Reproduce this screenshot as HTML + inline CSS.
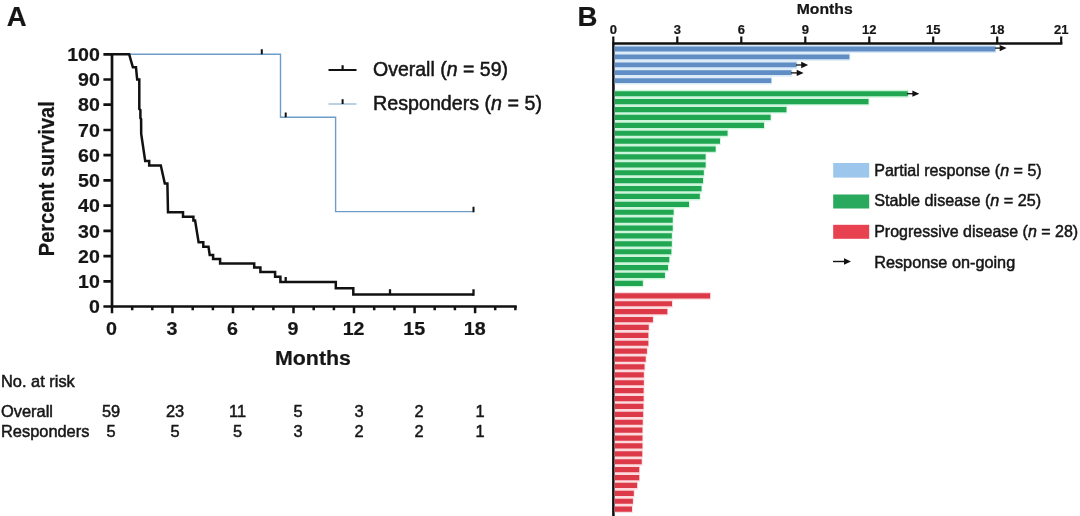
<!DOCTYPE html><html><head><meta charset="utf-8"><title>Figure</title><style>html,body{margin:0;padding:0;background:#fff}svg{display:block;filter:blur(.5px)}text{font-family:"Liberation Sans",Arial,sans-serif;fill:#161616;stroke:#161616;stroke-width:.5px}.b{font-weight:bold;stroke-width:.2px}</style></head><body>
<svg width="1080" height="516" viewBox="0 0 1080 516">
<rect width="1080" height="516" fill="#fff"/>
<text class="b" x="6.8" y="26" font-size="27.5">A</text>
<path d="M112 53V307.8M110.6 306.5H516.8" stroke="#111" stroke-width="2.7" fill="none"/>
<path d="M103.4 306.5H112M103.4 281.3H112M103.4 256.1H112M103.4 230.8H112M103.4 205.6H112M103.4 180.4H112M103.4 155.2H112M103.4 130.0H112M103.4 104.7H112M103.4 79.5H112M103.4 54.3H112" stroke="#111" stroke-width="2.7" fill="none"/>
<path d="M112.0 306.5V313.3M132.2 306.5V310.2M152.3 306.5V310.2M172.5 306.5V313.3M192.7 306.5V310.2M212.9 306.5V310.2M233.0 306.5V313.3M253.2 306.5V310.2M273.4 306.5V310.2M293.5 306.5V313.3M313.7 306.5V310.2M333.9 306.5V310.2M354.0 306.5V313.3M374.2 306.5V310.2M394.4 306.5V310.2M414.6 306.5V313.3M434.7 306.5V310.2M454.9 306.5V310.2M475.1 306.5V313.3M495.2 306.5V310.2M515.4 306.5V310.2" stroke="#111" stroke-width="2.5" fill="none"/>
<text class="b" transform="translate(99.8 313.2) scale(1.05 1)" font-size="18.6" text-anchor="end">0</text>
<text class="b" transform="translate(99.8 288.0) scale(1.05 1)" font-size="18.6" text-anchor="end">10</text>
<text class="b" transform="translate(99.8 262.8) scale(1.05 1)" font-size="18.6" text-anchor="end">20</text>
<text class="b" transform="translate(99.8 237.5) scale(1.05 1)" font-size="18.6" text-anchor="end">30</text>
<text class="b" transform="translate(99.8 212.3) scale(1.05 1)" font-size="18.6" text-anchor="end">40</text>
<text class="b" transform="translate(99.8 187.1) scale(1.05 1)" font-size="18.6" text-anchor="end">50</text>
<text class="b" transform="translate(99.8 161.9) scale(1.05 1)" font-size="18.6" text-anchor="end">60</text>
<text class="b" transform="translate(99.8 136.7) scale(1.05 1)" font-size="18.6" text-anchor="end">70</text>
<text class="b" transform="translate(99.8 111.4) scale(1.05 1)" font-size="18.6" text-anchor="end">80</text>
<text class="b" transform="translate(99.8 86.2) scale(1.05 1)" font-size="18.6" text-anchor="end">90</text>
<text class="b" transform="translate(99.8 61.0) scale(1.05 1)" font-size="18.6" text-anchor="end">100</text>
<text class="b" transform="translate(111.6 334.6) scale(1.06 1)" font-size="18.6" text-anchor="middle">0</text>
<text class="b" transform="translate(172.1 334.6) scale(1.06 1)" font-size="18.6" text-anchor="middle">3</text>
<text class="b" transform="translate(232.6 334.6) scale(1.06 1)" font-size="18.6" text-anchor="middle">6</text>
<text class="b" transform="translate(293.1 334.6) scale(1.06 1)" font-size="18.6" text-anchor="middle">9</text>
<text class="b" transform="translate(353.6 334.6) scale(1.06 1)" font-size="18.6" text-anchor="middle">12</text>
<text class="b" transform="translate(414.2 334.6) scale(1.06 1)" font-size="18.6" text-anchor="middle">15</text>
<text class="b" transform="translate(474.7 334.6) scale(1.06 1)" font-size="18.6" text-anchor="middle">18</text>
<text class="b" x="313" y="365.2" font-size="20" text-anchor="middle" textLength="76" lengthAdjust="spacingAndGlyphs">Months</text>
<text class="b" transform="translate(54 178.7) rotate(-90) scale(1 1.12)" font-size="20" text-anchor="middle" textLength="155" lengthAdjust="spacingAndGlyphs">Percent survival</text>
<path d="M112 54.3H280.5V117.2H335.6V211.6H473.5" stroke="#6f9dc9" stroke-width="1.4" fill="none"/>
<path d="M261.8 54.3V49.2M285.7 117.2V112.5M473.5 212.2V206.8" stroke="#111" stroke-width="2" fill="none"/>
<path d="M112 54.3L129.2 54.3L130.4 58.6L131.6 62.9L132.9 67.3L136 67.3L136.4 71.6L136.8 75.8L137.2 79.6L139.3 79.6L139.3 109L140.4 110L140.4 118L141.1 119L141.2 134L145.2 161L149.2 161L149.2 165.5L160.8 165.5L164.8 183.4L167.4 183.4L168 212.2L183 212.2L183 216.8L193.4 216.8L193.4 220.6L195.1 220.6L198.6 242.3L203.3 242.3L203.3 246.8L208.5 246.8L209.7 254.9L213.1 254.9L213.1 259.1L220.1 259.1L220.1 263.4L254.2 263.4L254.2 267.5L260.4 267.5L260.4 272L275.1 272L275.1 276.7L280.4 276.7L280.4 282L335.8 282L335.8 288.2L353.3 288.2L353.3 294.5L473.5 294.5" stroke="#111" stroke-width="2.5" fill="none" stroke-linejoin="miter"/>
<path d="M285.7 282V277M390 294.5V289.2M473.5 295.7V289.2" stroke="#111" stroke-width="2.3" fill="none"/>
<path d="M328.5 70H356.5M342.6 70V65.2" stroke="#111" stroke-width="2.2" fill="none"/>
<path d="M328.5 104H356.5" stroke="#98b6d0" stroke-width="1.3" fill="none"/>
<path d="M342.6 104V99.2" stroke="#111" stroke-width="2" fill="none"/>
<text x="373" y="75.7" font-size="19.3" textLength="135" lengthAdjust="spacingAndGlyphs">Overall (<tspan font-style="italic">n</tspan> = 59)</text>
<text x="373" y="110.3" font-size="19.4" textLength="169" lengthAdjust="spacingAndGlyphs">Responders (<tspan font-style="italic">n</tspan> = 5)</text>
<text x="1" y="386.6" font-size="16.4">No. at risk</text>
<text x="1" y="416.6" font-size="16.4">Overall</text>
<text x="1" y="436.7" font-size="16.4">Responders</text>
<text x="111" y="416.6" font-size="16.4" text-anchor="middle">59</text>
<text x="175" y="416.6" font-size="16.4" text-anchor="middle">23</text>
<text x="237.5" y="416.6" font-size="16.4" text-anchor="middle">11</text>
<text x="298" y="416.6" font-size="16.4" text-anchor="middle">5</text>
<text x="359" y="416.6" font-size="16.4" text-anchor="middle">3</text>
<text x="419" y="416.6" font-size="16.4" text-anchor="middle">2</text>
<text x="480" y="416.6" font-size="16.4" text-anchor="middle">1</text>
<text x="111" y="436.7" font-size="16.4" text-anchor="middle">5</text>
<text x="175" y="436.7" font-size="16.4" text-anchor="middle">5</text>
<text x="237.5" y="436.7" font-size="16.4" text-anchor="middle">5</text>
<text x="298" y="436.7" font-size="16.4" text-anchor="middle">3</text>
<text x="359" y="436.7" font-size="16.4" text-anchor="middle">2</text>
<text x="419" y="436.7" font-size="16.4" text-anchor="middle">2</text>
<text x="480" y="436.7" font-size="16.4" text-anchor="middle">1</text>
<text class="b" x="577.4" y="26" font-size="27.6">B</text>
<text class="b" x="824.7" y="14" font-size="14.8" text-anchor="middle" textLength="56" lengthAdjust="spacingAndGlyphs">Months</text>
<text class="b" x="613.3" y="33.5" font-size="13" text-anchor="middle">0</text>
<text class="b" x="677.3" y="33.5" font-size="13" text-anchor="middle">3</text>
<text class="b" x="741.3" y="33.5" font-size="13" text-anchor="middle">6</text>
<text class="b" x="805.3" y="33.5" font-size="13" text-anchor="middle">9</text>
<text class="b" x="869.3" y="33.5" font-size="13" text-anchor="middle">12</text>
<text class="b" x="933.2" y="33.5" font-size="13" text-anchor="middle">15</text>
<text class="b" x="997.2" y="33.5" font-size="13" text-anchor="middle">18</text>
<text class="b" x="1061.2" y="33.5" font-size="13" text-anchor="middle">21</text>
<path d="M613.3 36.6V43.5M677.3 36.6V43.5M741.3 36.6V43.5M805.3 36.6V43.5M869.3 36.6V43.5M933.2 36.6V43.5M997.2 36.6V43.5M1061.2 36.6V43.5" stroke="#111" stroke-width="2.2" fill="none"/>
<path d="M613.4 42.2V516M612.1 43.5H1062.4" stroke="#111" stroke-width="2.6" fill="none"/>
<path d="M614.8 45.05H996.0999999999999V52.95H614.8ZM614.8 52.95H850.1999999999999V60.85H614.8ZM614.8 60.85H797.3V68.75H614.8ZM614.8 68.75H792.3V76.65H614.8ZM614.8 76.65H772.0999999999999V84.55H614.8Z" fill="#dcebf8"/>
<path d="M614.8 46.60H995.3V51.40H614.8ZM614.8 54.50H849.4V59.30H614.8ZM614.8 62.40H796.5V67.20H614.8ZM614.8 70.30H791.5V75.10H614.8ZM614.8 78.20H771.3V83.00H614.8Z" fill="#5f8dc4"/>
<path d="M614.8 89.80H908.5999999999999V97.70H614.8ZM614.8 97.70H869.3V105.60H614.8ZM614.8 105.60H787.1999999999999V113.50H614.8ZM614.8 113.50H771.4V121.40H614.8ZM614.8 121.40H764.8V129.30H614.8ZM614.8 129.30H728.3V137.20H614.8ZM614.8 137.20H720.8V145.10H614.8ZM614.8 145.10H716.4V153.00H614.8ZM614.8 153.00H706.4V160.90H614.8ZM614.8 160.90H706.4V168.80H614.8ZM614.8 168.80H704.5999999999999V176.70H614.8ZM614.8 176.70H703.8V184.60H614.8ZM614.8 184.60H702.3V192.50H614.8ZM614.8 192.50H700.5999999999999V200.40H614.8ZM614.8 200.40H689.8V208.30H614.8ZM614.8 208.30H674.4V216.20H614.8ZM614.8 216.20H673.5V224.10H614.8ZM614.8 224.10H673.5V232.00H614.8ZM614.8 232.00H672.5999999999999V239.90H614.8ZM614.8 239.90H672.5999999999999V247.80H614.8ZM614.8 247.80H672.0999999999999V255.70H614.8ZM614.8 255.70H670.0V263.60H614.8ZM614.8 263.60H668.8V271.50H614.8ZM614.8 271.50H665.6999999999999V279.40H614.8ZM614.8 279.40H643.5999999999999V287.30H614.8Z" fill="#cdf5dc"/>
<path d="M614.8 91.15H907.8V96.35H614.8ZM614.8 99.05H868.5V104.25H614.8ZM614.8 106.95H786.4V112.15H614.8ZM614.8 114.85H770.6V120.05H614.8ZM614.8 122.75H764V127.95H614.8ZM614.8 130.65H727.5V135.85H614.8ZM614.8 138.55H720V143.75H614.8ZM614.8 146.45H715.6V151.65H614.8ZM614.8 154.35H705.6V159.55H614.8ZM614.8 162.25H705.6V167.45H614.8ZM614.8 170.15H703.8V175.35H614.8ZM614.8 178.05H703V183.25H614.8ZM614.8 185.95H701.5V191.15H614.8ZM614.8 193.85H699.8V199.05H614.8ZM614.8 201.75H689V206.95H614.8ZM614.8 209.65H673.6V214.85H614.8ZM614.8 217.55H672.7V222.75H614.8ZM614.8 225.45H672.7V230.65H614.8ZM614.8 233.35H671.8V238.55H614.8ZM614.8 241.25H671.8V246.45H614.8ZM614.8 249.15H671.3V254.35H614.8ZM614.8 257.05H669.2V262.25H614.8ZM614.8 264.95H668V270.15H614.8ZM614.8 272.85H664.9V278.05H614.8ZM614.8 280.75H642.8V285.95H614.8Z" fill="#21a651"/>
<path d="M614.8 291.90H710.9V299.80H614.8ZM614.8 299.80H672.8V307.70H614.8ZM614.8 307.70H668.0999999999999V315.60H614.8ZM614.8 315.60H653.6999999999999V323.50H614.8ZM614.8 323.50H649.5V331.40H614.8ZM614.8 331.40H649.0999999999999V339.30H614.8ZM614.8 339.30H649.0999999999999V347.20H614.8ZM614.8 347.20H647.6999999999999V355.10H614.8ZM614.8 355.10H646.5V363.00H614.8ZM614.8 363.00H645.3V370.90H614.8ZM614.8 370.90H644.5999999999999V378.80H614.8ZM614.8 378.80H644.5999999999999V386.70H614.8ZM614.8 386.70H644.4V394.60H614.8ZM614.8 394.60H644.4V402.50H614.8ZM614.8 402.50H644.1999999999999V410.40H614.8ZM614.8 410.40H643.9V418.30H614.8ZM614.8 418.30H643.5V426.20H614.8ZM614.8 426.20H643.1999999999999V434.10H614.8ZM614.8 434.10H643.1999999999999V442.00H614.8ZM614.8 442.00H643.1999999999999V449.90H614.8ZM614.8 449.90H643.0V457.80H614.8ZM614.8 457.80H642.5V465.70H614.8ZM614.8 465.70H640.0V473.60H614.8ZM614.8 473.60H640.0V481.50H614.8ZM614.8 481.50H637.9V489.40H614.8ZM614.8 489.40H634.5999999999999V497.30H614.8ZM614.8 497.30H633.6999999999999V505.20H614.8ZM614.8 505.20H632.8V513.10H614.8Z" fill="#fcdadd"/>
<path d="M614.8 293.25H710.1V298.45H614.8ZM614.8 301.15H672V306.35H614.8ZM614.8 309.05H667.3V314.25H614.8ZM614.8 316.95H652.9V322.15H614.8ZM614.8 324.85H648.7V330.05H614.8ZM614.8 332.75H648.3V337.95H614.8ZM614.8 340.65H648.3V345.85H614.8ZM614.8 348.55H646.9V353.75H614.8ZM614.8 356.45H645.7V361.65H614.8ZM614.8 364.35H644.5V369.55H614.8ZM614.8 372.25H643.8V377.45H614.8ZM614.8 380.15H643.8V385.35H614.8ZM614.8 388.05H643.6V393.25H614.8ZM614.8 395.95H643.6V401.15H614.8ZM614.8 403.85H643.4V409.05H614.8ZM614.8 411.75H643.1V416.95H614.8ZM614.8 419.65H642.7V424.85H614.8ZM614.8 427.55H642.4V432.75H614.8ZM614.8 435.45H642.4V440.65H614.8ZM614.8 443.35H642.4V448.55H614.8ZM614.8 451.25H642.2V456.45H614.8ZM614.8 459.15H641.7V464.35H614.8ZM614.8 467.05H639.2V472.25H614.8ZM614.8 474.95H639.2V480.15H614.8ZM614.8 482.85H637.1V488.05H614.8ZM614.8 490.75H633.8V495.95H614.8ZM614.8 498.65H632.9V503.85H614.8ZM614.8 506.55H632V511.75H614.8Z" fill="#dc3a48"/>
<path d="M995 48.1H1000.7" stroke="#111" stroke-width="1.3" fill="none"/><path d="M1006.6 48.1L999.7 44.95V51.25Z" fill="#111"/>
<path d="M796 65.0H802.2" stroke="#111" stroke-width="1.3" fill="none"/><path d="M808.1 65.0L801.2 61.85V68.15Z" fill="#111"/>
<path d="M791 72.9H797.7" stroke="#111" stroke-width="1.3" fill="none"/><path d="M803.6 72.9L796.7 69.75V76.05000000000001Z" fill="#111"/>
<path d="M907 93.7H913.4" stroke="#111" stroke-width="1.3" fill="none"/><path d="M919.3 93.7L912.4 90.55V96.85000000000001Z" fill="#111"/>
<rect x="833.2" y="163" width="36" height="14.6" fill="#9cc6ec"/>
<rect x="833.2" y="194.5" width="36" height="14" fill="#28a95d"/>
<rect x="833.2" y="224.8" width="36" height="14" fill="#e84150"/>
<path d="M833 261.5H845" stroke="#111" stroke-width="1.4" fill="none"/><path d="M851 261.5L844 258.3V264.7Z" fill="#111"/>
<text x="874.2" y="175.8" font-size="16.5" textLength="167.5" lengthAdjust="spacingAndGlyphs">Partial response (<tspan font-style="italic">n</tspan> = 5)</text>
<text x="874.2" y="206.2" font-size="16.5" textLength="167" lengthAdjust="spacingAndGlyphs">Stable disease (<tspan font-style="italic">n</tspan> = 25)</text>
<text x="874.2" y="236.9" font-size="16.5" textLength="204" lengthAdjust="spacingAndGlyphs">Progressive disease (<tspan font-style="italic">n</tspan> = 28)</text>
<text x="874.2" y="267.8" font-size="16.5" textLength="141" lengthAdjust="spacingAndGlyphs">Response on-going</text>
</svg></body></html>
